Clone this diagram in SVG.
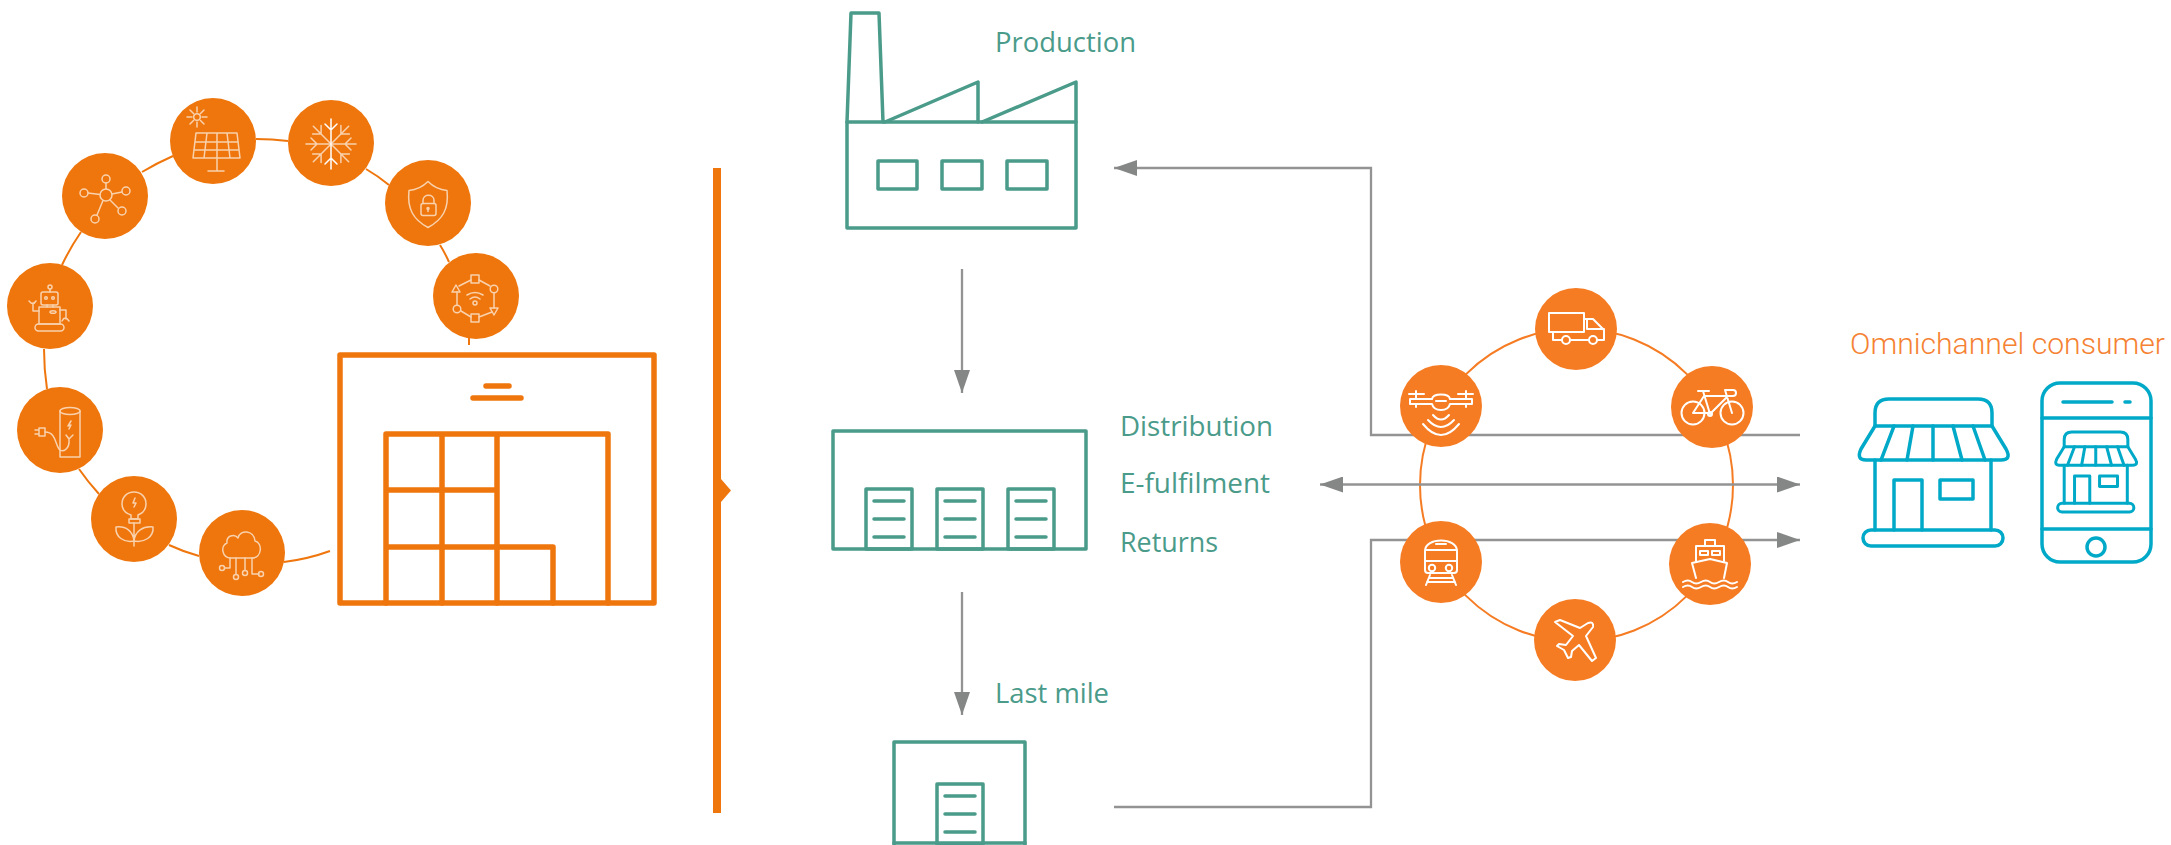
<svg xmlns="http://www.w3.org/2000/svg" width="2171" height="845" viewBox="0 0 2171 845">
<style>
.ring{fill:none;stroke:#ef760d;stroke-width:2}
.ringb{fill:none;stroke:#f67c24;stroke-width:2}
.c1{fill:#ef760d}
.c2{fill:#f67c24}
.ic{fill:none;stroke:#f9d2ad;stroke-width:1.5;stroke-linecap:round;stroke-linejoin:round}
.iw{fill:none;stroke:#fff;stroke-width:2;stroke-linecap:round;stroke-linejoin:round}
.wh{fill:none;stroke:#ef760d;stroke-width:5.500;stroke-linejoin:round;stroke-linecap:round}
.gr{fill:none;stroke:#4a9b8a;stroke-width:3.500;stroke-linejoin:round;stroke-linecap:round}
.bl{fill:none;stroke:#00a9c8;stroke-width:3.500;stroke-linejoin:round;stroke-linecap:round}
.cn{fill:none;stroke:#939393;stroke-width:2.300}
.t{font-family:"Open Sans","Noto Sans",sans-serif;font-size:27px;fill:#4a9b8a}
.o{font-family:Roboto,"Liberation Sans",Arial,sans-serif;font-weight:300;font-size:30px;fill:#f58233}
</style>
<defs>
<marker id="ah" markerUnits="userSpaceOnUse" markerWidth="23" markerHeight="16" refX="23" refY="8" orient="auto-start-reverse"><path d="M0,0L23,8L0,16Z" fill="#858787"/></marker>
<g id="snowarm"><path d="M0,0V-25M-6,-20L0,-14L6,-20"/></g>
<g id="door"><rect x="0" y="0" width="46" height="60"/><path d="M8,12H38M8,30H38M8,48H38"/></g>
<g id="store"><path d="M1875,426V413Q1875,399 1889,399H1978Q1992,399 1992,413V426Z"/><path d="M1875,426L1861,449Q1856,460 1866,460H2001Q2012,460 2006,449L1992,426"/><path d="M1894,426L1881,460M1913,426L1907,460M1933,426V460M1953,426L1962,460M1973,426L1985,460"/><path d="M1875,460V530M1991,460V530"/><rect x="1863" y="530" width="140" height="16" rx="8"/><path d="M1894,530V480H1922V530"/><rect x="1940" y="480" width="33" height="19"/></g>
</defs>
<g id="left-ring">
<path class="ring" d="M256,139Q272,139 288,141"/>
<path class="ring" d="M142,172Q157,163 173,156"/>
<path class="ring" d="M62,265Q70,248 81,232"/>
<path class="ring" d="M44,349Q44,369 47,389"/>
<path class="ring" d="M79,469Q88,482 99,494"/>
<path class="ring" d="M169,545Q184,552 199,556"/>
<path class="ring" d="M284,562Q308,559 330,551"/>
<path class="ring" d="M366,169Q378,176 389,185"/>
<path class="ring" d="M440,245Q445,253 449,262"/>
<path class="ring" d="M469,338V345"/>
</g>
<g id="node-solar"><circle class="c1" cx="213" cy="141" r="43"/><g class="ic"><circle cx="197" cy="117" r="3.300"/><path d="M197,112V107M197,122V127M192,117H187M202,117H207M193.500,113.500L190,110M200.500,120.500L204,124M200.500,113.500L204,110M193.500,120.500L190,124"/><path d="M196,133H237L240,158H193ZM195,142H238M194,150H239M207,133L204,158M217,133V171M227,133L230,158M208,171H224"/></g></g>
<g id="node-network"><circle class="c1" cx="105" cy="196" r="43"/><g class="ic"><circle cx="106" cy="195" r="6"/><circle cx="106" cy="179" r="4"/><circle cx="84" cy="193" r="4"/><circle cx="126" cy="191" r="4"/><circle cx="122" cy="211" r="4"/><circle cx="95" cy="219" r="4"/><path d="M106,183V189M88,193L100,194.500M122,192L112,194M118,208L110,200M97,215L103,200.500"/></g></g>
<g id="node-robot"><circle class="c1" cx="50" cy="306" r="43"/><g class="ic"><circle cx="50" cy="287" r="2"/><path d="M50,289V292"/><rect x="41" y="292" width="17" height="13" rx="2"/><circle cx="46" cy="298" r="1.300"/><circle cx="53" cy="298" r="1.300"/><path d="M47,305V307M53,305V307"/><rect x="39" y="307" width="21" height="17"/><rect x="35" y="324" width="29" height="7" rx="3.500"/><path d="M39,311H33V303M29,301Q33,306 36,301M60,310H66V319M62,321Q65,315 69,321"/><ellipse cx="53" cy="312" rx="3" ry="1.300"/></g></g>
<g id="node-battery"><circle class="c1" cx="60" cy="430" r="43"/><g class="ic"><ellipse cx="70" cy="411" rx="10" ry="3.500"/><path d="M60,411V457H80V411"/><path d="M71,421L68,426L71,425L69,429"/><path d="M66,435L69,439L73,435M69,439C70,450 62,453 59,449C55,444 56,432 45,432"/><path d="M45,428H39V436H45ZM39,430H35M39,434H35"/></g></g>
<g id="node-bulb"><circle class="c1" cx="134" cy="519" r="43"/><g class="ic"><path d="M131,515C125,513 122,509 122,504C122,497 127,492 134,492C141,492 146,497 146,504C146,509 143,513 138,515V519H131Z"/><rect x="129" y="519" width="11" height="4"/><path d="M135,498L133,503L136,503L134,507"/><path d="M134,523V546M134,541C124,543 115,537 116,527C126,526 133,531 134,541ZM134,541C144,543 154,537 153,527C143,526 135,531 134,541Z"/></g></g>
<g id="node-cloud"><circle class="c1" cx="242" cy="553" r="43"/><g class="ic"><path d="M231,558C222,558 220,546 227,543C226,536 234,533 238,538C240,529 254,530 255,541C263,543 262,558 252,558Z"/><path d="M230,558V568H225M236,558V574M245,558V570M252,558V574H259"/><circle cx="222" cy="568" r="2.500"/><circle cx="236" cy="577" r="2.500"/><circle cx="245" cy="573" r="2.500"/><circle cx="261" cy="574" r="2.500"/></g></g>
<g id="node-snow"><circle class="c1" cx="331" cy="143" r="43"/><g class="ic" transform="translate(331,144)"><use href="#snowarm" transform="rotate(45)"/><use href="#snowarm" transform="rotate(90)"/><use href="#snowarm" transform="rotate(135)"/><use href="#snowarm" transform="rotate(225)"/><use href="#snowarm" transform="rotate(270)"/><use href="#snowarm" transform="rotate(315)"/><path stroke="#fff" d="M0,-25V25M-6,-20L0,-14L6,-20M-6,20L0,14L6,20"/></g></g>
<g id="node-shield"><circle class="c1" cx="428" cy="203" r="43"/><g class="ic" transform="translate(0,3.500)"><path d="M428,178Q420,186 409,187C407,205 413,216 428,224C443,216 449,205 447,187Q436,186 428,178Z"/><rect x="421" y="200" width="15" height="12" rx="2"/><path d="M423,200V197C423,190 434,190 434,197V200"/><circle cx="428" cy="205" r="1"/><path d="M428,205V208"/></g></g>
<g id="node-wifi"><circle class="c1" cx="476" cy="296" r="43"/><g class="ic" transform="translate(0,7)"><rect x="471" y="268" width="8" height="8"/><circle cx="494" cy="282" r="3.800"/><path d="M490,301H498L494,308ZM452,285H460L456,278Z"/><rect x="471" y="307" width="8" height="8"/><circle cx="457" cy="302" r="3.800"/><path d="M479,273L490,279M494,286V301M492,305L479,310M471,310L461,304M457,298V285M459,279L471,273"/><circle cx="475" cy="296" r="2"/><path d="M470,292Q475,288 480,292M467,288Q475,283 483,288"/></g></g>
<g id="warehouse" class="wh"><rect x="340" y="355" width="314" height="248"/><path d="M486,386H509M473,398H521"/><path d="M386,603V434H608V603M442,434V603M497,434V603M553,547V603M386,490H497M386,547H553"/></g>
<g id="divider"><rect x="713" y="168" width="8" height="645" fill="#ef760d"/><path d="M721,479L731,490.500L721,502Z" fill="#ef760d"/></g>
<g id="factory" class="gr"><rect x="847" y="122" width="229" height="106"/><path d="M847,122L851,13H879L883,122M885,122L978,82V122M982,122L1076,82V122"/><rect x="878" y="161" width="39" height="28"/><rect x="942" y="161" width="40" height="28"/><rect x="1007" y="161" width="40" height="28"/></g>
<g id="distribution" class="gr"><rect x="833" y="431" width="253" height="118"/><use href="#door" transform="translate(866,489)"/><use href="#door" transform="translate(937,489)"/><use href="#door" transform="translate(1008,489)"/></g>
<g id="lastmile" class="gr"><path d="M894,845V742H1025V845"/><path d="M894,843H1025"/><use href="#door" transform="translate(937,784)"/></g>
<g id="labels"><text class="t" x="995" y="52" textLength="141" lengthAdjust="spacingAndGlyphs">Production</text><text class="t" x="1120" y="436" textLength="153" lengthAdjust="spacingAndGlyphs">Distribution</text><text class="t" x="1120" y="493" textLength="150" lengthAdjust="spacingAndGlyphs">E-fulfilment</text><text class="t" x="1120" y="552" textLength="98" lengthAdjust="spacingAndGlyphs">Returns</text><text class="t" x="995" y="703" textLength="114" lengthAdjust="spacingAndGlyphs">Last mile</text><text class="o" x="1850" y="354" textLength="315" lengthAdjust="spacingAndGlyphs">Omnichannel consumer</text></g>
<g id="right-ring"><circle class="ringb" cx="1576.500" cy="485" r="156.500"/></g>
<g id="connectors">
<path class="cn" d="M962,269V393" marker-end="url(#ah)"/>
<path class="cn" d="M962,592V715" marker-end="url(#ah)"/>
<path class="cn" d="M1800,435H1371V168H1114" marker-end="url(#ah)"/>
<path class="cn" d="M1320,484.500H1800" marker-start="url(#ah)" marker-end="url(#ah)"/>
<path class="cn" d="M1114,807H1371V540H1800" marker-end="url(#ah)"/>
</g>
<g id="node-truck"><circle class="c2" cx="1576" cy="329" r="41"/><g class="iw"><rect x="1549" y="313" width="35" height="19"/><path d="M1584,319H1593L1604,330V340H1598M1589,340H1571M1562,340H1553V332M1587,319V329H1604"/><circle cx="1566" cy="340" r="4"/><circle cx="1593" cy="340" r="4"/></g></g>
<g id="node-drone"><circle class="c2" cx="1441" cy="406" r="41"/><g class="iw"><path d="M1409,394H1424M1458,394H1473M1416,391V399M1466,391V399M1416,404V407M1466,404V407"/><path d="M1432,399H1410V404H1432C1434,412 1448,412 1450,404H1472V399H1450C1449,393 1433,393 1432,399ZM1436,401H1446"/><path d="M1433,415Q1441,424 1449,415M1428,420Q1441,434 1454,420M1423,424Q1441,446 1459,424"/></g></g>
<g id="node-bike"><circle class="c2" cx="1712" cy="407" r="41"/><g class="iw"><circle cx="1693" cy="413" r="11.500"/><circle cx="1732" cy="413" r="11.500"/><circle cx="1710" cy="414" r="2"/><path d="M1698,391H1709M1703,391L1710,414L1728,396H1704L1693,413H1710M1725,390L1732,413M1725,390H1733C1737,390 1737,396 1733,396H1728"/></g></g>
<g id="node-train"><circle class="c2" cx="1441" cy="562" r="41"/><g class="iw"><path d="M1425,551C1425,537 1457,537 1457,551V570Q1457,573 1454,573H1428Q1425,573 1425,570ZM1425,550H1457M1425,561H1457M1436,544H1446"/><circle cx="1432" cy="568" r="3.200"/><circle cx="1449" cy="568" r="3.200"/><path d="M1430,575L1426,585M1452,575L1456,585M1429,578H1453M1427,582H1455"/></g></g>
<g id="node-ship"><circle class="c2" cx="1710" cy="564" r="41"/><g class="iw"><path d="M1705,546V540H1715V546M1696,561V546H1724V561"/><rect x="1700" y="551" width="8" height="4"/><rect x="1712" y="551" width="8" height="4"/><path d="M1692,563L1710,559L1727,563L1724,578M1692,563L1696,578"/><path d="M1683,582Q1688,579 1692,582T1701,582T1710,582T1719,582T1728,582T1737,582M1683,587Q1688,584 1692,587T1701,587T1710,587T1719,587T1728,587T1737,587"/></g></g>
<g id="node-plane"><circle class="c2" cx="1575" cy="640" r="41"/><g class="iw"><path d="M1580,628L1588,623Q1594,621 1593,627L1586,636L1596,658L1592,661L1579,645L1572,651L1571,657L1568,658L1564,650L1557,646L1559,644L1566,645L1573,636L1555,622L1560,620Z"/></g></g>
<g id="node-store" class="bl"><use href="#store"/></g>
<g id="node-phone" class="bl"><rect x="2042" y="383" width="109" height="179" rx="18"/><path d="M2042,418H2151M2042,529H2151M2063,402H2112M2125,402H2130"/><circle cx="2096" cy="547" r="9"/><g transform="translate(1044.200,215) scale(0.544)" stroke-width="5.500"><use href="#store"/></g></g>
</svg>
